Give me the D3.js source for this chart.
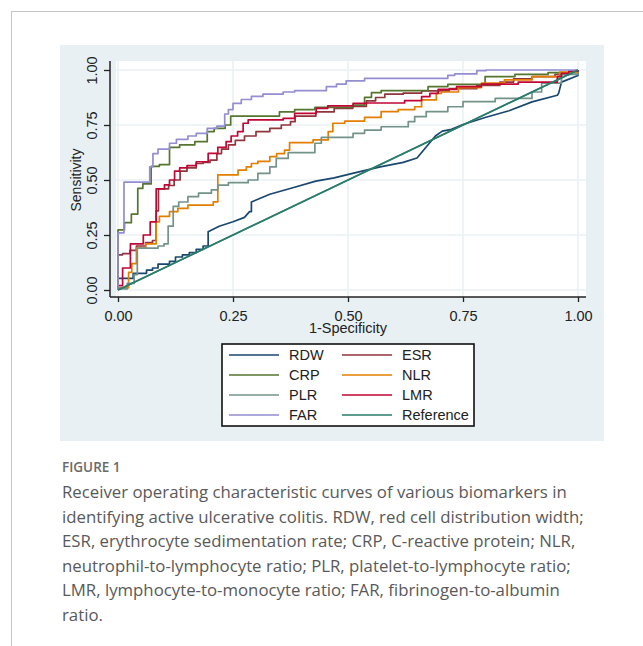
<!DOCTYPE html>
<html>
<head>
<meta charset="utf-8">
<script src="https://cdn.jsdelivr.net/npm/d3@7"></script>
<style>
  html, body { margin: 0; padding: 0; background: #fff; }
  svg { display: block; }
</style>
</head>
<body>
<svg id="chart" width="643" height="646"></svg>
<script>
// ROC points: [1 - specificity, sensitivity]
// RDW is drawn as a plain polyline (its own corners listed), the others as steps
const rdw = [[0, 0], [0, 0.053], [0.033, 0.053], [0.033, 0.076], [0.062, 0.076], [0.062, 0.09],
  [0.075, 0.09], [0.075, 0.1], [0.087, 0.1], [0.087, 0.118], [0.112, 0.118], [0.112, 0.13],
  [0.125, 0.13], [0.125, 0.15], [0.14, 0.15], [0.14, 0.16], [0.155, 0.16], [0.155, 0.17],
  [0.17, 0.17], [0.17, 0.185], [0.185, 0.185], [0.185, 0.2], [0.196, 0.2], [0.196, 0.265],
  [0.22, 0.29], [0.25, 0.31], [0.275, 0.33], [0.286, 0.356], [0.29, 0.356], [0.29, 0.4],
  [0.33, 0.435], [0.38, 0.465], [0.43, 0.495], [0.47, 0.51], [0.51, 0.53], [0.57, 0.56],
  [0.62, 0.58], [0.65, 0.6], [0.67, 0.65], [0.69, 0.7], [0.705, 0.722], [0.725, 0.73],
  [0.75, 0.752], [0.8, 0.785], [0.85, 0.815], [0.9, 0.855], [0.955, 0.885], [0.958, 0.895],
  [0.964, 0.945], [1, 0.975], [1, 1]];
const esr = [[0, 0], [0, 0.16], [0.01, 0.165], [0.026, 0.18], [0.04, 0.2], [0.06, 0.215],
  [0.075, 0.225], [0.083, 0.36], [0.088, 0.46], [0.11, 0.475], [0.122, 0.5], [0.135, 0.54],
  [0.15, 0.555], [0.17, 0.575], [0.185, 0.58], [0.2, 0.59], [0.215, 0.62], [0.225, 0.64],
  [0.24, 0.66], [0.255, 0.68], [0.275, 0.7], [0.3, 0.72], [0.33, 0.735], [0.355, 0.75],
  [0.375, 0.765], [0.385, 0.79], [0.43, 0.81], [0.47, 0.825], [0.51, 0.835], [0.54, 0.86],
  [0.56, 0.875], [0.58, 0.89], [0.62, 0.895], [0.66, 0.905], [0.72, 0.915], [0.78, 0.93],
  [0.83, 0.945], [0.86, 0.96], [0.9, 0.97], [0.95, 0.98], [0.98, 0.99], [1, 1]];
const crp = [[0, 0], [0, 0.273], [0.014, 0.306], [0.029, 0.345], [0.043, 0.462], [0.054, 0.482],
  [0.072, 0.562], [0.09, 0.57], [0.112, 0.648], [0.134, 0.66], [0.167, 0.674], [0.194, 0.72],
  [0.209, 0.735], [0.233, 0.75], [0.245, 0.79], [0.351, 0.81], [0.384, 0.82], [0.428, 0.83],
  [0.511, 0.84], [0.536, 0.876], [0.551, 0.897], [0.572, 0.906], [0.674, 0.924], [0.717, 0.935],
  [0.798, 0.97], [0.863, 0.98], [0.935, 0.988], [1, 1]];
const nlr = [[0, 0], [0, 0.01], [0.023, 0.08], [0.03, 0.12], [0.04, 0.19], [0.06, 0.21],
  [0.083, 0.31], [0.09, 0.335], [0.112, 0.356], [0.13, 0.371], [0.152, 0.386], [0.207, 0.401],
  [0.217, 0.523], [0.261, 0.545], [0.279, 0.56], [0.29, 0.575], [0.304, 0.585], [0.33, 0.606],
  [0.345, 0.62], [0.362, 0.636], [0.373, 0.67], [0.424, 0.682], [0.457, 0.72], [0.467, 0.758],
  [0.493, 0.768], [0.536, 0.785], [0.572, 0.811], [0.609, 0.82], [0.645, 0.833], [0.66, 0.864],
  [0.692, 0.894], [0.703, 0.9], [0.74, 0.92], [0.79, 0.94], [0.84, 0.955], [0.9, 0.97],
  [0.96, 0.99], [1, 1]];
const plr = [[0, 0], [0, 0.005], [0.02, 0.03], [0.035, 0.07], [0.042, 0.19], [0.087, 0.2],
  [0.1, 0.21], [0.109, 0.29], [0.12, 0.38], [0.132, 0.4], [0.152, 0.424], [0.175, 0.44],
  [0.203, 0.455], [0.217, 0.477], [0.24, 0.488], [0.283, 0.5], [0.304, 0.53], [0.33, 0.56],
  [0.344, 0.598], [0.37, 0.624], [0.428, 0.667], [0.442, 0.694], [0.511, 0.712], [0.536, 0.727],
  [0.572, 0.742], [0.631, 0.765], [0.645, 0.788], [0.67, 0.811], [0.717, 0.833], [0.75, 0.856],
  [0.82, 0.871], [0.9, 0.9], [0.921, 0.94], [0.964, 0.98], [1, 1]];
const lmr = [[0, 0], [0, 0.02], [0.01, 0.1], [0.027, 0.21], [0.055, 0.25], [0.07, 0.31],
  [0.083, 0.46], [0.101, 0.478], [0.112, 0.5], [0.123, 0.54], [0.134, 0.555], [0.15, 0.565],
  [0.17, 0.583], [0.196, 0.621], [0.217, 0.648], [0.235, 0.674], [0.246, 0.7], [0.26, 0.72],
  [0.272, 0.758], [0.283, 0.773], [0.359, 0.78], [0.384, 0.803], [0.431, 0.826], [0.456, 0.837],
  [0.511, 0.848], [0.54, 0.85], [0.623, 0.861], [0.66, 0.879], [0.678, 0.894], [0.696, 0.912],
  [0.736, 0.924], [0.79, 0.936], [0.87, 0.945], [0.955, 0.97], [0.964, 0.985], [0.98, 0.995],
  [1, 1]];
const far = [[0, 0], [0, 0.26], [0.013, 0.49], [0.069, 0.56], [0.076, 0.62], [0.087, 0.64],
  [0.112, 0.667], [0.127, 0.685], [0.152, 0.7], [0.17, 0.712], [0.194, 0.735], [0.215, 0.745],
  [0.232, 0.8], [0.24, 0.82], [0.25, 0.848], [0.268, 0.866], [0.29, 0.88], [0.315, 0.89],
  [0.359, 0.9], [0.384, 0.906], [0.453, 0.924], [0.475, 0.936], [0.496, 0.951], [0.536, 0.962],
  [0.717, 0.976], [0.732, 0.982], [0.78, 0.997], [0.8, 1], [1, 1]];
const reference = [[0, 0], [1, 1]];

const seriesNames = ['RDW', 'ESR', 'CRP', 'NLR', 'PLR', 'LMR', 'FAR', 'Reference'];
const seriesData = [rdw, esr, crp, nlr, plr, lmr, far, reference];
const ticks = [0, 0.25, 0.5, 0.75, 1];

const captionTitle = 'FIGURE 1';
const captionLines = [
  'Receiver operating characteristic curves of various biomarkers in',
  'identifying active ulcerative colitis. RDW, red cell distribution width;',
  'ESR, erythrocyte sedimentation rate; CRP, C-reactive protein; NLR,',
  'neutrophil-to-lymphocyte ratio; PLR, platelet-to-lymphocyte ratio;',
  'LMR, lymphocyte-to-monocyte ratio; FAR, fibrinogen-to-albumin',
  'ratio.',
];

const colors = {
  RDW: '#1a476f', ESR: '#90353b', CRP: '#55752f', NLR: '#e37e00',
  PLR: '#73938a', LMR: '#c10534', FAR: '#938dd2', Reference: '#2b7d6c',
};

const svg = d3.select('#chart');
const font = 'Liberation Sans, Arial, sans-serif';

// page frame
svg.append('rect')
  .attr('x', 11.5).attr('y', 11.5)
  .attr('width', 700).attr('height', 700)
  .attr('fill', 'none')
  .attr('stroke', '#c6c6c6');

// graph background
svg.append('rect')
  .attr('x', 60).attr('y', 45)
  .attr('width', 544).attr('height', 396)
  .attr('fill', '#e8f0f3');

const plot = {left: 116, right: 586, top: 61, bottom: 297};

svg.append('rect')
  .attr('x', plot.left).attr('y', plot.top)
  .attr('width', plot.right - plot.left).attr('height', plot.bottom - plot.top)
  .attr('fill', '#fff');

const x = d3.scaleLinear().domain([0, 1]).range([118, 578]);
const y = d3.scaleLinear().domain([0, 1]).range([290, 70]);

// grid
const grid = svg.append('g').attr('stroke', '#eaf2f3').attr('stroke-width', 1.6);
grid.selectAll('.gx').data(ticks).enter().append('line')
  .attr('x1', (d) => x(d)).attr('x2', (d) => x(d))
  .attr('y1', plot.top).attr('y2', plot.bottom);
grid.selectAll('.gy').data(ticks).enter().append('line')
  .attr('x1', plot.left).attr('x2', plot.right)
  .attr('y1', (d) => y(d)).attr('y2', (d) => y(d));

// curves
const stepLine = d3.line()
  .x((d) => x(d[0]))
  .y((d) => y(d[1]))
  .curve(d3.curveStepAfter);
const straightLine = d3.line()
  .x((d) => x(d[0]))
  .y((d) => y(d[1]));

const curves = svg.append('g').attr('fill', 'none').attr('stroke-linejoin', 'round');
seriesNames.forEach((name, i) => {
  const plain = name == 'Reference' || name == 'RDW';
  curves.append('path')
    .attr('d', plain ? straightLine(seriesData[i]) : stepLine(seriesData[i]))
    .attr('stroke', colors[name])
    .attr('stroke-width', 1.7);
});
// reference drawn again on top, as in the figure
curves.append('path')
  .attr('d', straightLine(reference))
  .attr('stroke', colors.Reference)
  .attr('stroke-width', 1.4);

// axes
const xAxis = svg.append('g')
  .attr('transform', `translate(0,${plot.bottom})`)
  .call(d3.axisBottom(x).tickValues(ticks).tickSize(5).tickPadding(9)
    .tickFormat(d3.format('.2f')));
const yAxis = svg.append('g')
  .attr('transform', 'translate(110,0)')
  .call(d3.axisLeft(y).tickValues(ticks).tickSize(6).tickFormat(d3.format('.2f')));

[xAxis, yAxis].forEach((g) => {
  g.select('.domain').remove();
  g.selectAll('.tick line').attr('stroke', '#222').attr('stroke-width', 1.3);
  g.selectAll('.tick text')
    .attr('fill', '#222')
    .style('font-family', font)
    .style('font-size', '14.5px');
});

yAxis.selectAll('.tick text')
  .attr('x', null).attr('dy', null)
  .attr('text-anchor', 'middle')
  .attr('dominant-baseline', 'central')
  .attr('transform', 'translate(-18,0) rotate(-90)');

svg.append('line')
  .attr('x1', 110).attr('x2', 110)
  .attr('y1', plot.top).attr('y2', plot.bottom)
  .attr('stroke', '#222').attr('stroke-width', 1.5);
svg.append('line')
  .attr('x1', 110).attr('x2', plot.right)
  .attr('y1', plot.bottom).attr('y2', plot.bottom)
  .attr('stroke', '#222').attr('stroke-width', 1.5);

svg.append('text')
  .attr('x', x(0.5)).attr('y', 333)
  .attr('text-anchor', 'middle')
  .attr('fill', '#222')
  .style('font-family', font).style('font-size', '14.5px')
  .text('1-Specificity');

svg.append('text')
  .attr('transform', `translate(76,${y(0.5)}) rotate(-90)`)
  .attr('text-anchor', 'middle')
  .attr('dominant-baseline', 'central')
  .attr('fill', '#222')
  .style('font-family', font).style('font-size', '14px')
  .text('Sensitivity');

// legend
const legend = svg.append('g');
legend.append('rect')
  .attr('x', 222).attr('y', 344)
  .attr('width', 252).attr('height', 82)
  .attr('fill', '#fff')
  .attr('stroke', '#111').attr('stroke-width', 1.6);

const legendOrder = ['RDW', 'ESR', 'CRP', 'NLR', 'PLR', 'LMR', 'FAR', 'Reference'];
const item = legend.selectAll('.item').data(legendOrder).enter().append('g')
  .attr('transform', (d, i) => `translate(${i % 2 ? 342 : 229},${355 + Math.floor(i / 2) * 20})`);
item.append('line')
  .attr('x1', 0).attr('x2', 50)
  .attr('stroke', (d) => colors[d])
  .attr('stroke-width', 1.5);
item.append('text')
  .attr('x', 60)
  .attr('dominant-baseline', 'central')
  .attr('fill', '#222')
  .style('font-family', font).style('font-size', '14.5px')
  .text((d) => d);

// caption
svg.append('text')
  .attr('x', 62).attr('y', 472)
  .attr('fill', '#6a6a6a')
  .style('font-family', 'Open Sans, sans-serif')
  .style('font-size', '13.5px')
  .style('font-weight', 600)
  .text(captionTitle);

svg.append('g').selectAll('text').data(captionLines).enter().append('text')
  .attr('x', 62)
  .attr('y', (d, i) => 498 + i * 24.6)
  .attr('fill', '#595959')
  .style('font-family', 'Open Sans, sans-serif')
  .style('font-size', '16.8px')
  .text((d) => d);
</script>
</body>
</html>
